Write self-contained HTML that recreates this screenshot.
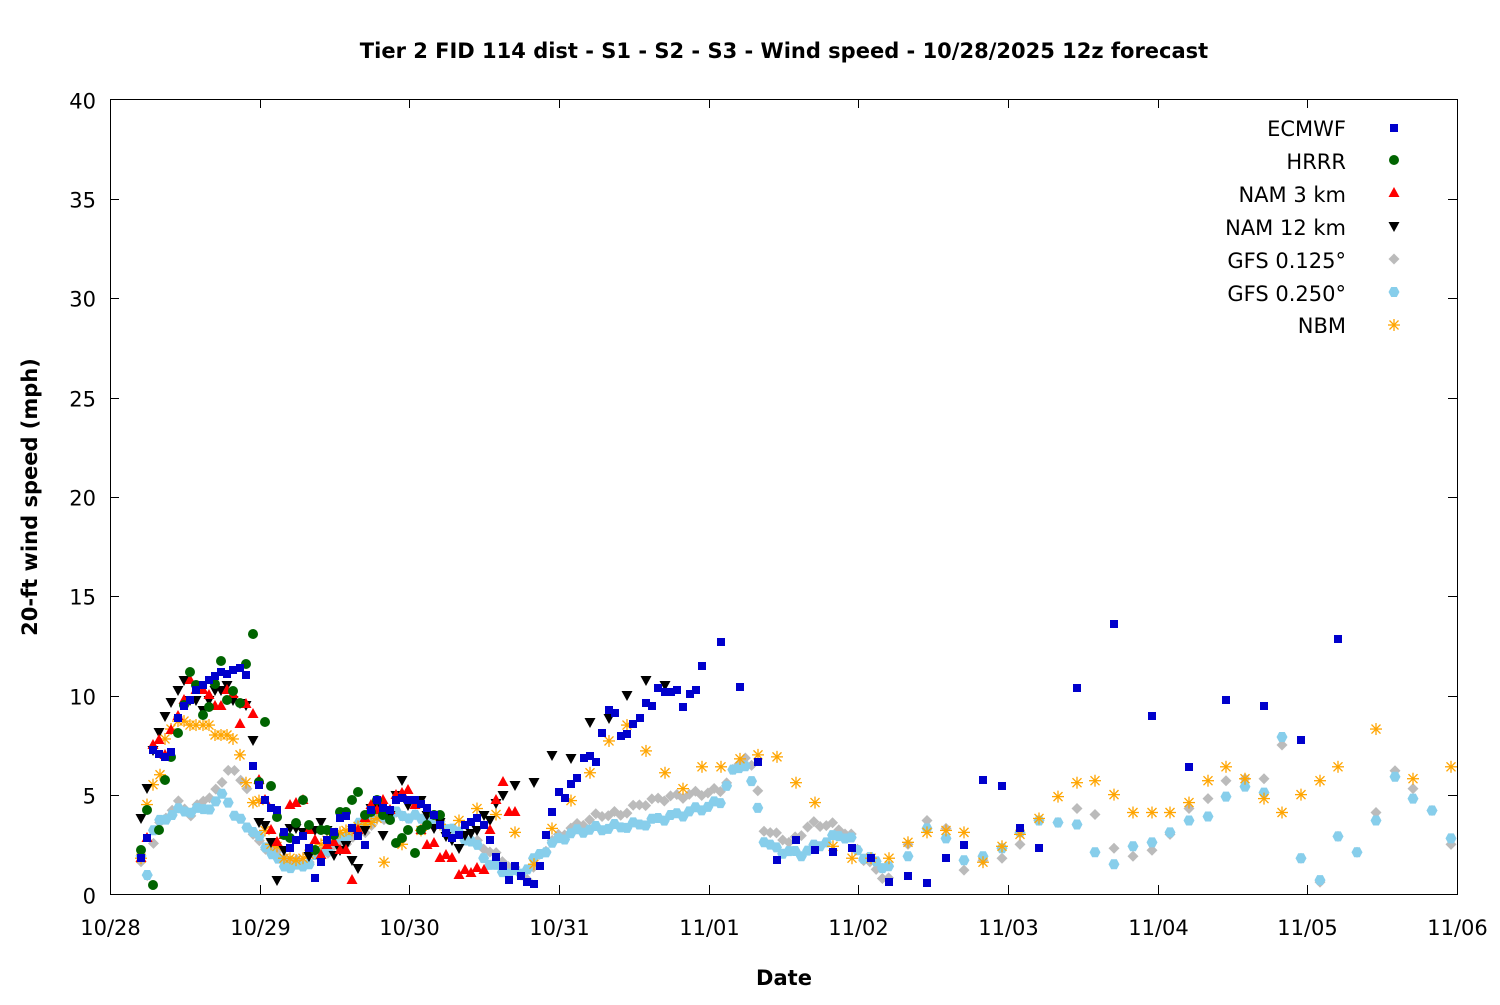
<!DOCTYPE html>
<html><head><meta charset="utf-8"><style>
body{margin:0;background:#fff;}
svg text{font-family:"DejaVu Sans","Liberation Sans",sans-serif;}
</style></head><body>
<svg id="s" width="1500" height="1000" xmlns="http://www.w3.org/2000/svg">
<defs>
<rect id="sq" x="-4" y="-4" width="8" height="8" fill="#0000cc"/>
<circle id="ci" r="5" fill="#006400"/>
<polygon id="tu" points="0,-6 5.5,4 -5.5,4" fill="#ff0000"/>
<polygon id="td" points="0,6 5.5,-4 -5.5,-4" fill="#000"/>
<polygon id="di" points="0,-5.5 5.5,0 0,5.5 -5.5,0" fill="#bbbbbb"/>
<polygon id="hx" points="-2.8,-5 2.8,-5 5.5,0 2.8,5 -2.8,5 -5.5,0" fill="#87ceeb"/>
<g id="as" stroke="#ffa500" stroke-width="1.3"><line x1="-6" y1="0" x2="6" y2="0"/><line x1="0" y1="-6" x2="0" y2="6"/><line x1="-4.5" y1="-4.5" x2="4.5" y2="4.5"/><line x1="-4.5" y1="4.5" x2="4.5" y2="-4.5"/></g>
</defs>
<text x="784" y="58" text-anchor="middle" font-size="21" font-weight="bold">Tier 2 FID 114 dist - S1 - S2 - S3 - Wind speed - 10/28/2025 12z forecast</text>
<text x="784" y="985" text-anchor="middle" font-size="21" font-weight="bold">Date</text>
<text transform="translate(37,497) rotate(-90)" text-anchor="middle" font-size="21" font-weight="bold">20-ft wind speed (mph)</text>
<g id="ax" stroke="#000" stroke-width="1" fill="none"><rect x="110.5" y="99.5" width="1347" height="795"/></g>
<g id="lab" font-size="21"></g>
<g id="pts"></g>
<g font-size="21" text-anchor="end">
<text x="1346" y="136">ECMWF</text><text x="1346" y="169">HRRR</text><text x="1346" y="202">NAM 3 km</text><text x="1346" y="235">NAM 12 km</text><text x="1346" y="268">GFS 0.125°</text><text x="1346" y="301">GFS 0.250°</text><text x="1346" y="333">NBM</text>
</g>
<g>
<use href="#sq" x="1394" y="128"/><use href="#ci" x="1394" y="160"/><use href="#tu" x="1394" y="193"/><use href="#td" x="1394" y="226"/><use href="#di" x="1394" y="259"/><use href="#hx" x="1394" y="292"/><use href="#as" x="1394" y="325"/>
</g>
</svg>
<script>
var NS="http://www.w3.org/2000/svg",ax=document.getElementById("ax"),lab=document.getElementById("lab"),P=document.getElementById("pts");
function el(p,t,a,txt){var e=document.createElementNS(NS,t);for(var k in a)e.setAttribute(k,a[k]);if(txt)e.textContent=txt;p.appendChild(e);return e;}
for(var i=0;i<=8;i++){var y=894.5-i*99.375;y=Math.round(y)+0.5;
 if(i>0&&i<8){el(ax,"line",{x1:110,y1:y,x2:119,y2:y});el(ax,"line",{x1:1448,y1:y,x2:1457,y2:y});}
 el(lab,"text",{x:96,y:y+8,"text-anchor":"end"},String(i*5));}
var xl=["10/28","10/29","10/30","10/31","11/01","11/02","11/03","11/04","11/05","11/06"];
for(var i=0;i<10;i++){var x=Math.round(110+i*149.67)+0.5;
 if(i>0&&i<9){el(ax,"line",{x1:x,y1:894,x2:x,y2:885});el(ax,"line",{x1:x,y1:99,x2:x,y2:108});}
 el(lab,"text",{x:x,y:935,"text-anchor":"middle"},xl[i]);}
function Y(v){return 894-v*19.875;}
function put(id,x,y){el(P,"use",{href:"#"+id,x:x,y:y});}
function interp(arr,x){for(var i=0;i<arr.length-1;i+=1){if(x>=arr[i][0]&&x<=arr[i+1][0]){var t=(x-arr[i][0])/(arr[i+1][0]-arr[i][0]);return arr[i][1]+t*(arr[i+1][1]-arr[i][1]);}}return arr[arr.length-1][1];}
function dense(id,curve,sparse){for(var x=141;x<=890;x+=6.23){var v=interp(curve,x)+((Math.sin(x*1.7)*0.15));put(id,x,Y(v));}sparse.forEach(function(p){put(id,p[0],Y(p[1]));});}
var g1=[[141,1.5],[147,1],[153,2.5],[160,3.5],[170,4.2],[180,4.6],[190,4],[200,4.5],[210,5],[220,5.3],[230,6.6],[240,5.6],[246,5.8],[253,3],[260,2.5],[280,2],[300,1.5],[320,2],[340,2.5],[360,3],[380,3.8],[400,4],[420,3.8],[440,3.5],[460,3],[480,2.5],[500,1.8],[520,1],[530,0.8],[540,2],[560,3],[580,3.5],[600,4],[620,4],[640,4.5],[660,4.8],[690,5],[720,5.2],[745,7],[755,6],[765,3],[780,3],[790,2.5],[810,3.5],[830,3.5],[850,3],[860,2],[880,1],[890,0.7]];
var g1s=[[908,2.5],[927,3.7],[946,3.3],[964,1.2],[983,1.7],[1002,1.8],[1020,2.5],[1039,3.7],[1058,3.6],[1077,4.3],[1095,4],[1114,2.3],[1133,1.9],[1152,2.2],[1170,3],[1189,4.3],[1208,4.8],[1226,5.7],[1245,5.8],[1264,5.8],[1282,7.5],[1301,1.8],[1320,0.6],[1338,2.9],[1357,2.1],[1376,4.1],[1395,6.2],[1413,5.3],[1432,4.2],[1451,2.5]];
var g2=[[141,1.8],[147,1],[153,3.2],[160,3.6],[170,4],[180,4.2],[200,4.2],[215,4.5],[225,5.2],[235,3.8],[245,3.6],[255,3],[265,2.5],[280,1.5],[300,1.3],[320,2],[340,2.8],[360,3.5],[380,4],[400,4],[420,3.8],[440,3.6],[460,3],[475,2.5],[490,1.5],[500,1.2],[520,1],[530,1.5],[540,2],[560,2.8],[580,3.2],[600,3.3],[620,3.4],[640,3.5],[660,3.8],[680,4],[700,4.3],[720,4.6],[730,6],[745,6.6],[755,5],[765,2.5],[780,2.2],[800,2],[820,2.5],[840,3],[850,2.8],[860,2],[880,1.5],[890,1.3]];
var g2s=[[908,1.9],[927,3.3],[946,2.8],[964,1.7],[983,1.9],[1002,2.3],[1020,3.1],[1039,3.7],[1058,3.6],[1077,3.5],[1095,2.1],[1114,1.5],[1133,2.4],[1152,2.6],[1170,3.1],[1189,3.7],[1208,3.9],[1226,4.9],[1245,5.4],[1264,5.1],[1282,7.9],[1301,1.8],[1320,0.7],[1338,2.9],[1357,2.1],[1376,3.7],[1395,5.9],[1413,4.8],[1432,4.2],[1451,2.8]];
dense("di",g1,g1s);dense("hx",g2,g2s);
var nbm=[[141,1.8],[147,4.5],[153,5.5],[160,6],[165,7.8],[171,8.3],[178,8.7],[184,8.7],[190,8.5],[196,8.5],[203,8.5],[209,8.5],[215,8],[221,8],[227,8],[233,7.8],[240,7],[246,5.6],[253,4.6],[259,4.7],[265,3.2],[271,2.5],[277,2.4],[284,1.8],[290,1.8],[296,1.7],[303,1.8],[309,2],[315,2.2],[321,2.5],[327,2.7],[334,3],[340,3.1],[346,3.2],[352,3.2],[358,3.4],[365,3.5],[371,3.6],[377,3.8],[384,1.6],[402,2.5],[421,3.2],[440,3.5],[459,3.7],[477,4.3],[496,4],[515,3.1],[534,1.5],[552,3.3],[571,4.7],[590,6.1],[609,7.7],[627,8.5],[646,7.2],[665,6.1],[683,5.3],[702,6.4],[721,6.4],[740,6.8],[758,7],[777,6.9],[796,5.6],[815,4.6],[833,2.4],[852,1.8],[871,1.8],[889,1.8],[908,2.6],[927,3.1],[946,3.2],[964,3.1],[983,1.6],[1002,2.4],[1020,3],[1039,3.8],[1058,4.9],[1077,5.6],[1095,5.7],[1114,5],[1133,4.1],[1152,4.1],[1170,4.1],[1189,4.6],[1208,5.7],[1226,6.4],[1245,5.8],[1264,4.8],[1282,4.1],[1301,5],[1320,5.7],[1338,6.4],[1376,8.3],[1413,5.8],[1451,6.4]];
nbm.forEach(function(p){put("as",p[0],Y(p[1]));});
var pix={
td:[[141,818],[147,788],[153,750],[159,732],[165,716],[171,702],[178,690],[184,680],[190,700],[196,700],[203,710],[209,700],[215,690],[221,690],[227,685],[233,700],[240,703],[246,705],[253,740],[259,822],[265,825],[271,842],[277,880],[284,850],[290,828],[296,828],[303,832],[309,856],[315,830],[321,822],[327,830],[334,855],[340,850],[346,845],[352,860],[358,868],[365,830],[371,808],[377,805],[383,835],[390,815],[396,795],[402,780],[408,805],[415,803],[421,800],[427,815],[434,828],[440,822],[446,836],[452,840],[459,848],[465,835],[471,833],[477,830],[484,815],[490,820],[496,803],[503,795],[515,785],[534,782],[552,755],[571,758],[590,722],[609,718],[627,695],[646,680],[665,685]],
tu:[[141,858],[147,838],[153,745],[159,740],[165,755],[171,730],[178,716],[184,700],[190,680],[196,690],[203,690],[209,695],[215,706],[221,706],[227,690],[233,694],[240,724],[246,704],[253,714],[259,780],[265,800],[271,830],[277,842],[284,835],[290,805],[296,803],[303,800],[309,830],[315,840],[321,855],[327,845],[334,842],[340,850],[346,850],[352,880],[358,830],[365,818],[371,805],[377,810],[383,800],[390,810],[396,795],[402,793],[408,790],[415,805],[421,830],[427,845],[434,843],[440,858],[446,855],[452,858],[459,875],[465,870],[471,873],[477,868],[484,870],[490,830],[496,800],[503,782],[509,812],[515,812]],
ci:[[141,850],[147,810],[153,885],[159,830],[165,780],[171,757],[178,733],[184,705],[190,672],[196,685],[203,715],[209,707],[215,684],[221,661],[227,700],[233,691],[240,703],[246,664],[253,634],[259,782],[265,722],[271,786],[277,817],[284,835],[290,838],[296,823],[303,800],[309,825],[315,850],[321,830],[327,830],[334,835],[340,812],[346,812],[352,800],[358,792],[365,815],[371,812],[377,800],[383,815],[390,820],[396,843],[402,838],[408,830],[415,853],[421,830],[427,825],[434,815],[440,815]],
sq:[[141,858],[147,838],[153,750],[159,754],[165,757],[171,752],[178,718],[184,706],[190,700],[196,690],[203,685],[209,680],[215,676],[221,672],[227,674],[233,670],[240,668],[246,675],[253,766],[259,785],[265,800],[271,808],[277,810],[284,832],[290,848],[296,840],[303,836],[309,848],[315,878],[321,862],[327,840],[334,832],[340,818],[346,816],[352,828],[358,836],[365,845],[371,810],[377,800],[383,808],[390,810],[396,800],[402,798],[408,800],[415,800],[421,804],[427,808],[434,815],[440,825],[446,833],[452,838],[459,835],[465,825],[471,822],[477,818],[484,825],[490,840],[496,857],[503,866],[509,880],[515,866],[521,876],[527,882],[534,884],[540,866],[546,835],[552,812],[559,792],[565,798],[571,784],[577,778],[584,758],[590,756],[596,762],[602,733],[609,710],[615,713],[621,736],[627,734],[633,724],[640,718],[646,703],[652,706],[658,688],[665,692],[671,692],[677,690],[683,707],[690,694],[696,690],[702,666],[721,642],[740,687],[758,762],[777,860],[796,840],[815,850],[833,852],[852,848],[871,858],[889,882],[908,876],[927,883],[946,858],[964,845],[983,780],[1002,786],[1020,828],[1039,848],[1077,688],[1114,624],[1152,716],[1189,767],[1226,700],[1264,706],[1301,740],[1338,639]]};
["td","tu","ci","sq"].forEach(function(k){pix[k].forEach(function(p){put(k,p[0],p[1]);});});
</script>
</body></html>
